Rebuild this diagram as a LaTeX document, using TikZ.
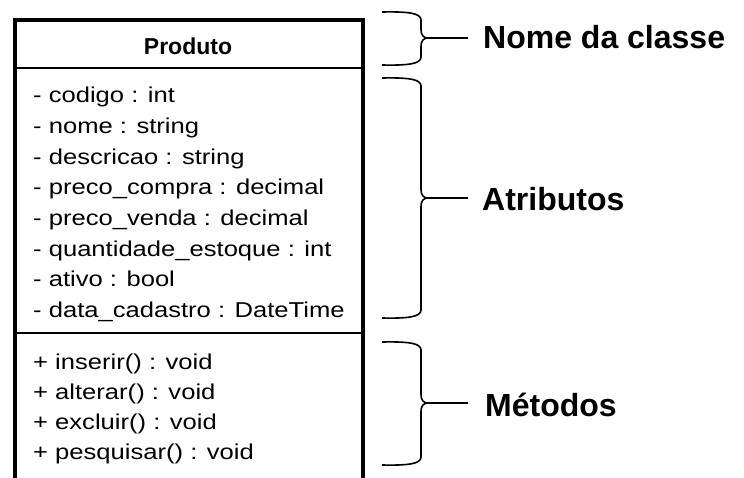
\documentclass[tikz,border=0pt]{standalone}
\usepackage{fontspec}
\setmainfont{Liberation Sans}
\newfontfamily\attrfont[FakeStretch=1.19]{Liberation Sans}
\begin{document}
\begin{tikzpicture}[x=1pt,y=-1pt,
  boxline/.style={line width=3.2pt,black},
  sepline/.style={line width=2pt,black},
  braceline/.style={line width=1.6pt,black,line join=round},
  member/.style={anchor=base west,inner sep=0pt,font=\attrfont\fontsize{21.5}{24}\selectfont},
  label/.style={anchor=base west,inner sep=0pt,font=\bfseries\fontsize{32}{36}\selectfont},
  title/.style={anchor=base,inner sep=0pt,font=\bfseries\fontsize{23}{26}\selectfont}]
\useasboundingbox[fill=white] (0,0) rectangle (744,477);
% class box (open at the bottom, cut by the picture edge)
\coordinate (bl) at (15,480);
\coordinate (tl) at (15,20);
\coordinate (tr) at (363,20);
\coordinate (br) at (363,480);
\draw[boxline] (bl) -- (tl) -- (tr) -- (br);
\coordinate (s1l) at (15,68);  \coordinate (s1r) at (363,68);
\coordinate (s2l) at (15,333); \coordinate (s2r) at (363,333);
\draw[sepline] (s1l) -- (s1r);
\draw[sepline] (s2l) -- (s2r);
% title
\node[title] (title) at (188,54.3) {Produto};
% attributes
\node[member] (a1) at (33,102.7) {- codigo : int};
\node[member] (a2) at (33,133.4) {- nome : string};
\node[member] (a3) at (33,164.0) {- descricao : string};
\node[member] (a4) at (33,194.7) {- preco\_compra : decimal};
\node[member] (a5) at (33,225.3) {- preco\_venda : decimal};
\node[member] (a6) at (33,256.0) {- quantidade\_estoque : int};
\node[member] (a7) at (33,286.7) {- ativo : bool};
\node[member] (a8) at (33,317.3) {- data\_cadastro : DateTime};
% methods
\node[member] (m1) at (33,369) {+ inserir() : void};
\node[member] (m2) at (33,399) {+ alterar() : void};
\node[member] (m3) at (33,429) {+ excluir() : void};
\node[member] (m4) at (33,459) {+ pesquisar() : void};
% braces
\newcommand{\umlbrace}[3]{%
  \draw[braceline] (382,#1) .. controls (408,#1-0.5) and (421,#1+1) .. (421,#1+8)
     -- (421,#3-9) .. controls (421,#3-2) and (424,#3) .. (428,#3) -- (468,#3);
  \draw[braceline] (428,#3) .. controls (424,#3) and (421,#3+2) .. (421,#3+9)
     -- (421,#2-8) .. controls (421,#2-1) and (408,#2+0.5) .. (382,#2);}
\umlbrace{12}{65}{38}
\umlbrace{78}{318}{198}
\umlbrace{342}{465}{403}
% labels
\node[label] (lnome) at (483,48.3) {Nome da classe};
\node[label] (latr) at (482,210.5) {Atributos};
\node[label] (lmet) at (485,416) {Métodos};
\end{tikzpicture}
\end{document}
